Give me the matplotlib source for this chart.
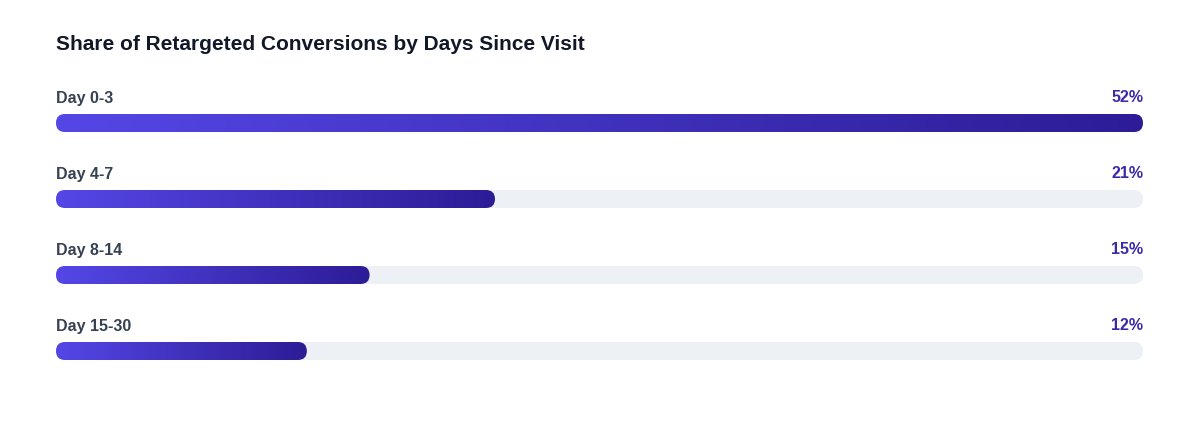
import matplotlib
matplotlib.use("Agg")
import matplotlib.pyplot as plt
import numpy as np
from matplotlib.colors import LinearSegmentedColormap
from matplotlib.patches import FancyBboxPatch

title = "Share of Retargeted Conversions by Days Since Visit"
categories = ["Day 0-3", "Day 4-7", "Day 8-14", "Day 15-30"]
shares = [52, 21, 15, 12]

plt.rcParams["font.family"] = ["Liberation Sans", "DejaVu Sans"]

fig = plt.figure(figsize=(12, 4.32), dpi=100)
ax = fig.add_axes([0, 0, 1, 1])
ax.set_xlim(0, 1200)
ax.set_ylim(432, 0)
ax.axis("off")

left, full_w, bar_h = 56, 1087, 18
top0, step = 123, 76
cmap = LinearSegmentedColormap.from_list("g", ["#5447e6", "#2d1c96"])
grad = np.linspace(0, 1, 256).reshape(1, -1)

ax.text(left, 45, title, fontsize=15, fontweight="bold", color="#111827", va="center")

vmax = max(shares)
for i, (cat, v) in enumerate(zip(categories, shares)):
    yc = top0 + i * step
    ax.text(left, yc - 25, cat, fontsize=11.5, fontweight="bold", color="#374151", va="center")
    ax.text(left + full_w, yc - 25, f"{v}%", fontsize=11.5, fontweight="bold",
            color="#3b2aa8", va="center", ha="right")
    track = FancyBboxPatch((left, yc - bar_h / 2), full_w, bar_h,
                           boxstyle="round,pad=0,rounding_size=9",
                           fc="#edf0f4", ec="none")
    ax.add_patch(track)
    w = full_w * v / vmax
    bar = FancyBboxPatch((left, yc - bar_h / 2), w, bar_h,
                         boxstyle="round,pad=0,rounding_size=9",
                         fc="none", ec="none")
    ax.add_patch(bar)
    im = ax.imshow(grad, cmap=cmap, aspect="auto",
                   extent=(left, left + w, yc + bar_h / 2, yc - bar_h / 2), zorder=2)
    im.set_clip_path(bar)

fig.savefig("out.png", dpi=100)
